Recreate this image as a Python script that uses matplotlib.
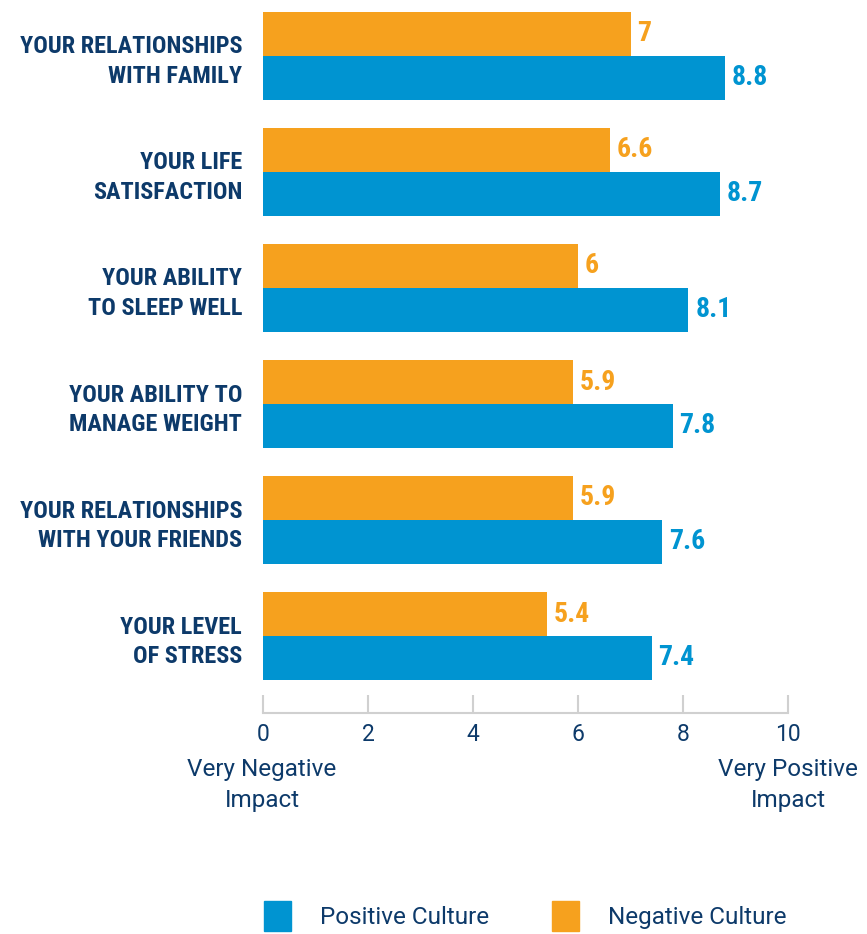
import matplotlib.pyplot as plt
from matplotlib.patches import Patch

categories = ["YOUR RELATIONSHIPS\nWITH FAMILY", "YOUR LIFE\nSATISFACTION",
              "YOUR ABILITY\nTO SLEEP WELL", "YOUR ABILITY TO\nMANAGE WEIGHT",
              "YOUR RELATIONSHIPS\nWITH YOUR FRIENDS", "YOUR LEVEL\nOF STRESS"]
positive = [8.8, 8.7, 8.1, 7.8, 7.6, 7.4]
negative = [7, 6.6, 6, 5.9, 5.9, 5.4]
xticks = [0, 2, 4, 6, 8, 10]

BLUE = "#0094d1"
ORANGE = "#f6a11e"
NAVY = "#0d3a6a"
BOLD = "Roboto Condensed"
REG = "Roboto"

fig = plt.figure(figsize=(8.67, 9.34), dpi=100)
ax = fig.add_axes([263 / 867, 1 - 713 / 934, 525 / 867, 713 / 934])

h = 44 / 116
ys = list(range(len(categories)))
ax.barh([y - h / 2 for y in ys], negative, height=h, color=ORANGE)
ax.barh([y + h / 2 for y in ys], positive, height=h, color=BLUE)

for y, n, p in zip(ys, negative, positive):
    ax.annotate(f"{n:g}", (n, y - h / 2), xytext=(5, 0), textcoords="offset points",
                va="center", ha="left", color=ORANGE, fontsize=20,
                fontweight="bold", family=BOLD)
    ax.annotate(f"{p:g}", (p, y + h / 2), xytext=(5, 0), textcoords="offset points",
                va="center", ha="left", color=BLUE, fontsize=20,
                fontweight="bold", family=BOLD)

ax.set_xlim(0, 10)
ax.set_ylim((713 - 56) / 116, -56 / 116)
ax.set_yticks(ys)
ax.set_yticklabels(categories, fontsize=17.5, fontweight="bold", color=NAVY,
                   family=BOLD, linespacing=1.35)
ax.tick_params(axis="y", length=0, pad=15)
ax.set_xticks(xticks)
ax.set_xticklabels([str(t) for t in xticks], fontsize=16.5, color=NAVY, family=REG)
ax.tick_params(axis="x", direction="in", length=13, width=1.5, color="#d0d0d0", pad=7)
for s in ["top", "right", "left"]:
    ax.spines[s].set_visible(False)
ax.spines["bottom"].set_color("#d0d0d0")
ax.spines["bottom"].set_linewidth(1.5)

fig.text(262 / 867, 1 - 785 / 934, "Very Negative\nImpact", ha="center", va="center",
         fontsize=17.5, color=NAVY, family=REG, linespacing=1.4)
fig.text(788 / 867, 1 - 785 / 934, "Very Positive\nImpact", ha="center", va="center",
         fontsize=17.5, color=NAVY, family=REG, linespacing=1.4)

handles = [Patch(color=BLUE, label="Positive Culture"),
           Patch(color=ORANGE, label="Negative Culture")]
fig.legend(handles=handles, loc="center left", bbox_to_anchor=(242 / 867, 1 - 916 / 934),
           ncol=2, frameon=False, handlelength=1.1, handleheight=1.5,
           handletextpad=1.2, columnspacing=2.6,
           prop={"family": REG, "size": 17.5}, labelcolor=NAVY)

fig.savefig("out.png", dpi=100)
